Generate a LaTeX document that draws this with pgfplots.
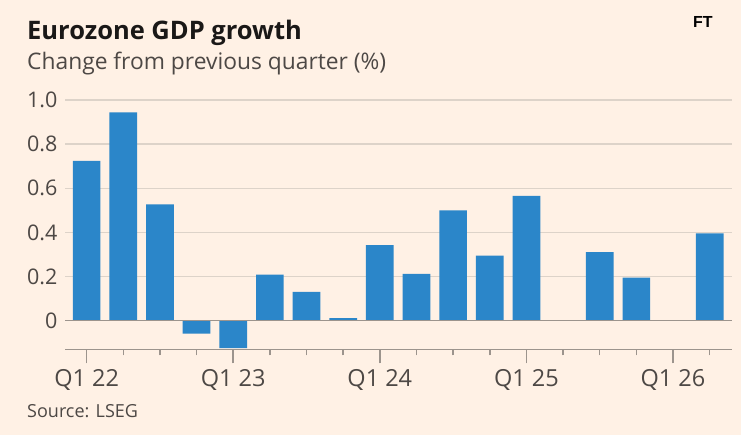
\documentclass[border=0pt]{standalone}
\usepackage{pgfplots}
\usepackage{pgfplotstable}
\pgfplotsset{compat=1.18}
\usepackage{fontspec}
\setmainfont{Open Sans}
\newfontfamily\ftfont{Liberation Sans}
\definecolor{bg}{HTML}{FFF1E5}
\definecolor{barc}{HTML}{2B86C9}
\definecolor{gridc}{HTML}{DDD3C9}
\definecolor{axisc}{HTML}{9C948D}
\definecolor{txt}{HTML}{4D4845}
\definecolor{ttl}{HTML}{1A1817}
\pgfplotstableread{
x y
0 0.724
1 0.944
2 0.527
3 -0.059
4 -0.125
5 0.208
6 0.130
7 0.011
8 0.342
9 0.212
10 0.500
11 0.295
12 0.565
13 0
14 0.310
15 0.195
16 0
17 0.396
}\gdp
\begin{document}
\begin{tikzpicture}[x=1pt,y=1pt]
\useasboundingbox (0,0) rectangle (741,-435);
\fill[bg] (0,0) rectangle (741,-435);
\node[anchor=base west, inner sep=0, font=\fontsize{25.5}{25.5}\selectfont\bfseries, text=ttl] at (27,-40) {Eurozone GDP growth};
\node[anchor=base west, inner sep=0, font=\fontsize{22.8}{22.8}\selectfont, text=txt] at (27,-70) {Change from previous quarter (\%)};
\node[anchor=base west, inner sep=0, font=\fontsize{18}{18}\selectfont, text=txt] at (27,-417) {Source: LSEG};
\node[anchor=base west, inner sep=0, font=\fontsize{16}{16}\selectfont\ftfont\bfseries, text=black] at (693,-28) {FT};
\begin{axis}[
  at={(65pt,-349.3pt)}, anchor=south west,
  scale only axis, width=667pt, height=249.3pt,
  xmin=-0.59, xmax=17.61, ymin=-0.13, ymax=1.0,
  axis x line*=bottom, axis y line*=left,
  x axis line style={axisc, line width=1.5pt, -},
  y axis line style={draw=none},
  ytick={0,0.2,0.4,0.6,0.8,1.0},
  yticklabels={0,0.2,0.4,0.6,0.8,1.0},
  ytick style={draw=none},
  ymajorgrids, grid style={gridc, line width=1.3pt},
  xtick={0,4,8,12,16},
  xticklabels={Q1 22,Q1 23,Q1 24,Q1 25,Q1 26},
  minor xtick={1,2,3,5,6,7,9,10,11,13,14,15,17},
  tick align=outside,
  xtick style={axisc, line width=1.5pt},
  minor x tick style={axisc, line width=1.5pt},
  major x tick style={axisc, line width=1.5pt},
  major tick length=14pt, minor tick length=6pt,
  x tick label style={font=\fontsize{23.5}{23.5}\selectfont, text=txt, anchor=north, yshift=-3pt},
  y tick label style={font=\fontsize{21.5}{21.5}\selectfont, text=txt, anchor=east, xshift=10pt},
  ybar, bar width=27.7pt,
  clip=false,
]
\addplot[fill=barc, draw=none] table[x=x,y=y] {\gdp};
\addplot[axisc, line width=1.5pt, sharp plot, forget plot] coordinates {(-0.59,0) (17.61,0)};
\end{axis}
\end{tikzpicture}
\end{document}
